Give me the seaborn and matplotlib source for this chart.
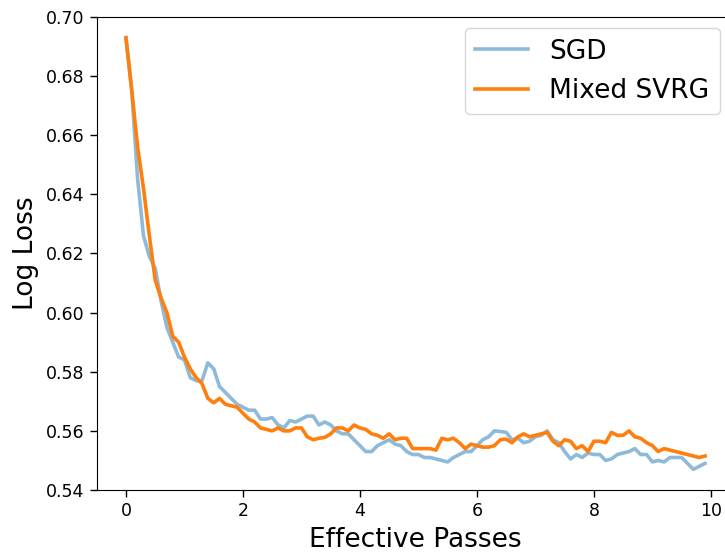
import numpy as np
import pandas as pd
import matplotlib
matplotlib.use("Agg")
import matplotlib.pyplot as plt
import seaborn as sns

passes = [round(0.1 * i, 1) for i in range(100)]

sgd = [0.693, 0.675, 0.645, 0.626, 0.619, 0.615, 0.604, 0.595, 0.590, 0.585,
       0.584, 0.578, 0.577, 0.577, 0.583, 0.581, 0.575, 0.573, 0.571, 0.569,
       0.568, 0.567, 0.567, 0.564, 0.564, 0.5645, 0.562, 0.561, 0.5635, 0.563,
       0.564, 0.565, 0.565, 0.562, 0.563, 0.562, 0.560, 0.559, 0.559, 0.557,
       0.555, 0.553, 0.553, 0.555, 0.556, 0.557, 0.5555, 0.555, 0.553, 0.552,
       0.552, 0.551, 0.551, 0.5505, 0.550, 0.5495, 0.551, 0.552, 0.553, 0.553,
       0.555, 0.557, 0.558, 0.560, 0.5598, 0.5595, 0.557, 0.5575, 0.556, 0.5565,
       0.558, 0.5585, 0.560, 0.557, 0.556, 0.553, 0.5505, 0.552, 0.551, 0.5525,
       0.552, 0.552, 0.550, 0.5505, 0.552, 0.5525, 0.553, 0.554, 0.552, 0.552,
       0.5495, 0.550, 0.5495, 0.551, 0.551, 0.551, 0.549, 0.547, 0.548, 0.549]

svrg = [0.693, 0.675, 0.656, 0.642, 0.626, 0.611, 0.605, 0.600, 0.592, 0.590,
        0.585, 0.581, 0.578, 0.576, 0.571, 0.5695, 0.571, 0.569, 0.5685, 0.568,
        0.566, 0.564, 0.563, 0.561, 0.5605, 0.560, 0.561, 0.560, 0.560, 0.561,
        0.561, 0.558, 0.557, 0.5575, 0.5578, 0.559, 0.561, 0.561, 0.560, 0.562,
        0.561, 0.5605, 0.559, 0.5585, 0.5575, 0.559, 0.557, 0.5575, 0.5575, 0.554,
        0.554, 0.554, 0.554, 0.5535, 0.5575, 0.557, 0.5575, 0.556, 0.554, 0.5555,
        0.555, 0.5545, 0.5545, 0.555, 0.557, 0.5572, 0.556, 0.558, 0.559, 0.558,
        0.5585, 0.559, 0.5595, 0.5565, 0.555, 0.557, 0.5565, 0.554, 0.555, 0.553,
        0.5565, 0.5565, 0.556, 0.5595, 0.5585, 0.5585, 0.560, 0.558, 0.5575, 0.556,
        0.555, 0.553, 0.554, 0.5535, 0.553, 0.5525, 0.552, 0.5515, 0.551, 0.5515]

series_names = ["SGD", "Mixed SVRG"]

df = pd.DataFrame({
    "Effective Passes": passes * 2,
    "Log Loss": sgd + svrg,
    "Method": [series_names[0]] * len(passes) + [series_names[1]] * len(passes),
})

plt.rcParams["font.family"] = ["DejaVu Sans"]

fig = plt.figure(figsize=(7.25, 5.53), dpi=100)
W, H = 725, 553
ax = fig.add_axes([97 / W, 63 / H, (734 - 97) / W, (490 - 17) / H])

palette = {"SGD": (0.122, 0.467, 0.706, 0.5), "Mixed SVRG": "#ff7f0e"}
sns.lineplot(data=df, x="Effective Passes", y="Log Loss", hue="Method",
             palette=palette, linewidth=2.6, ax=ax)

ax.set_xlim(-0.495, 10.395)
ax.set_ylim(0.54, 0.70)
ax.set_xticks([0, 2, 4, 6, 8, 10])
ax.set_yticks([0.54, 0.56, 0.58, 0.60, 0.62, 0.64, 0.66, 0.68, 0.70])
ax.set_yticklabels([f"{v:.2f}" for v in ax.get_yticks()])
ax.tick_params(labelsize=12.5, length=5, width=1, pad=4)
ax.spines["right"].set_visible(False)
ax.set_xlabel("Effective Passes", fontsize=19, labelpad=5)
ax.set_ylabel("Log Loss", fontsize=19, labelpad=5)

leg = ax.legend(fontsize=19, loc="upper right",
                bbox_to_anchor=((720 - 97) / 637, 1 - 11 / 473),
                borderaxespad=0, handlelength=2.0, framealpha=0.8)
leg.set_title(None)

fig.savefig("out.png", dpi=100)
